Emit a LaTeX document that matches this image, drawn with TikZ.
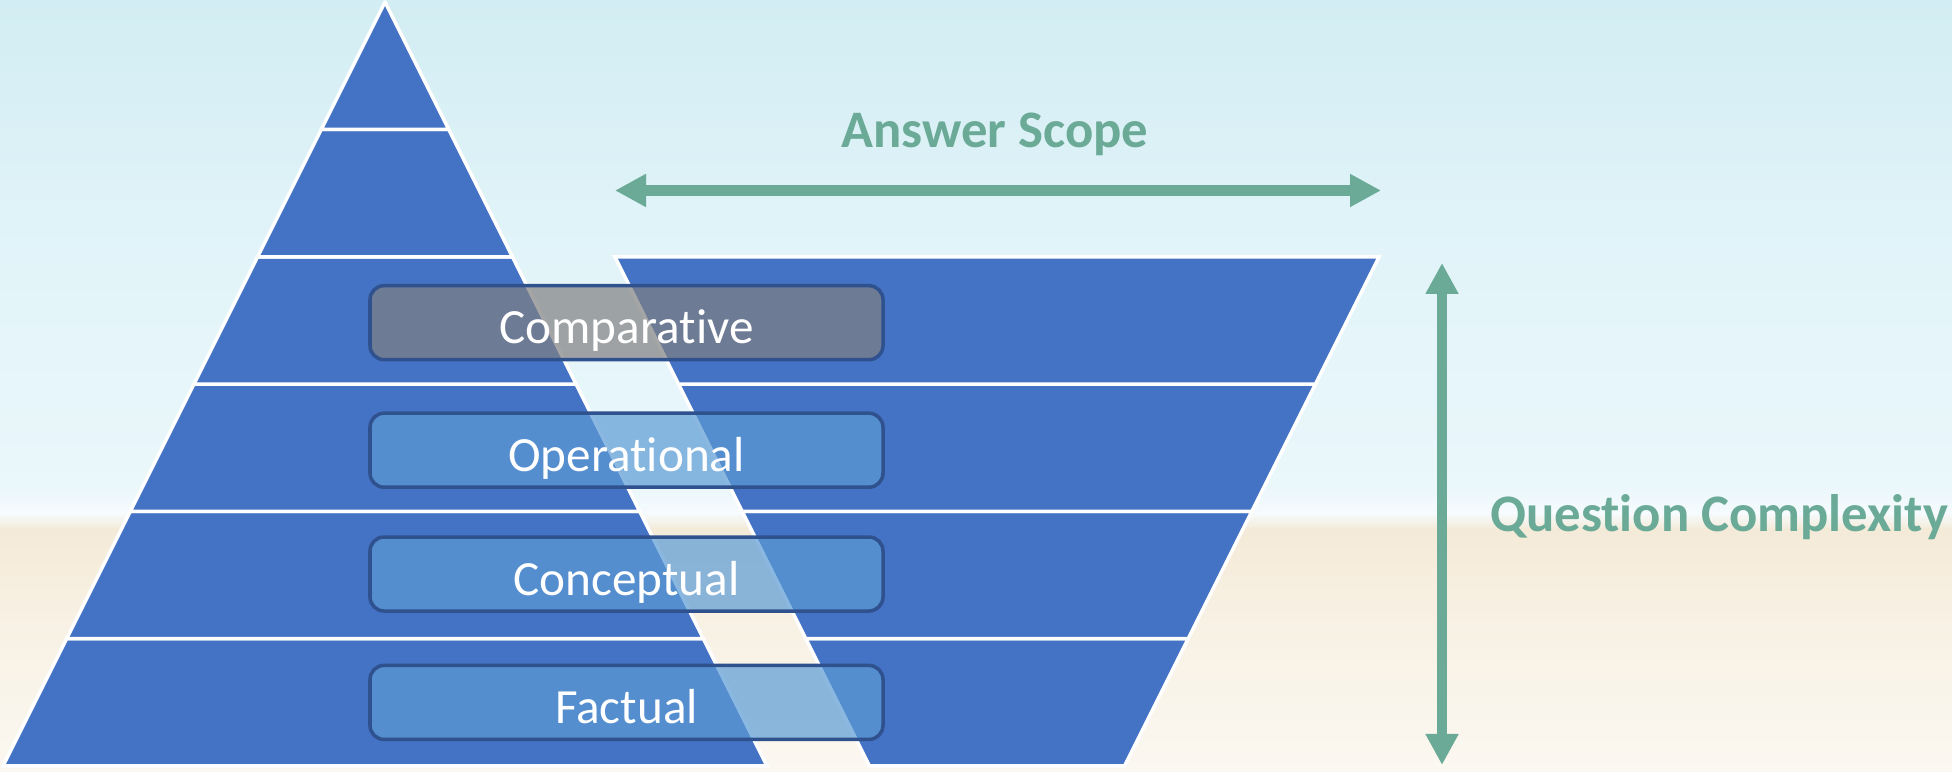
\documentclass[tikz,border=0pt]{standalone}
\usepackage{fontspec}
\setmainfont{Carlito}[Ligatures=NoCommon]
\usepackage{tikz}
\usetikzlibrary{arrows.meta,positioning}

\definecolor{pyrblue}{HTML}{4472C4}
\definecolor{boxblue}{HTML}{5B9BD5}
\definecolor{boxgray}{HTML}{808080}
\definecolor{boxline}{HTML}{2F528F}
\definecolor{scopegreen}{HTML}{6AAA96}
\definecolor{skya}{HTML}{D2EDF3}
\definecolor{skyb}{HTML}{E2F4F9}
\definecolor{skyc}{HTML}{EAF7FB}
\definecolor{foam}{HTML}{F6FBFD}
\definecolor{sanda}{HTML}{F4EAD8}
\definecolor{sandb}{HTML}{F8F1E4}
\definecolor{sandc}{HTML}{FBF8F1}

\tikzset{
    layer/.style={fill=pyrblue, draw=white, line width=1pt},
    level/.style={draw=boxline, line width=1pt, rounded corners=4pt,
        fill=boxblue, fill opacity=0.7, draw opacity=1, text opacity=1,
        text=white, minimum width=5.13cm, minimum height=0.74cm,
        text height=0.5cm, text depth=0.08cm, inner sep=0pt,
        font=\fontsize{14}{16}\selectfont},
    measure/.style={draw=scopegreen, line width=0.107cm,
        {Triangle[length=0.31cm,width=0.31cm]}-{Triangle[length=0.31cm,width=0.31cm]}},
    measurelabel/.style={text=scopegreen, inner sep=0pt,
        font=\fontsize{15}{18}\selectfont\bfseries}
}

\begin{document}
\begin{tikzpicture}
    \useasboundingbox (0,0) rectangle (19.52,7.72);

    % beach background
    \shade[top color=skya, bottom color=skyb] (0,5.2) rectangle (19.52,7.72);
    \shade[top color=skyb, bottom color=skyc] (0,2.85) rectangle (19.52,5.21);
    \shade[top color=skyc, bottom color=foam] (0,2.58) rectangle (19.52,2.86);
    \shade[top color=foam, bottom color=sanda] (0,2.42) rectangle (19.52,2.59);
    \shade[top color=sanda, bottom color=sandb] (0,1.5) rectangle (19.52,2.43);
    \shade[top color=sandb, bottom color=sandc] (0,0) rectangle (19.52,1.51);

    % pyramid
    \foreach \i in {0,...,5} {
        \pgfmathsetmacro\yb{0.06+1.273*\i}
        \pgfmathsetmacro\yt{0.06+1.273*(\i+1)}
        \draw[layer] ({3.85-0.5*(7.70-\yb)},\yb) -- ({3.85+0.5*(7.70-\yb)},\yb)
            -- ({3.85+0.5*(7.70-\yt)},\yt) -- ({3.85-0.5*(7.70-\yt)},\yt) -- cycle;
    }

    % inverted pyramid
    \foreach \i in {0,...,3} {
        \pgfmathsetmacro\yb{0.06+1.273*\i}
        \pgfmathsetmacro\yt{0.06+1.273*(\i+1)}
        \draw[layer] ({9.97-1.275-0.5*(\yb-0.06)},\yb) -- ({9.97+1.275+0.5*(\yb-0.06)},\yb)
            -- ({9.97+1.275+0.5*(\yt-0.06)},\yt) -- ({9.97-1.275-0.5*(\yt-0.06)},\yt) -- cycle;
    }

    % question levels
    \node[level, fill=boxgray] (comp) at (6.265,4.493) {Comparative};
    \node[level, below=0.50cm of comp] (oper) {Operational};
    \node[level, below=0.463cm of oper] (conc) {Conceptual};
    \node[level, below=0.509cm of conc] (fact) {Factual};

    % answer scope
    \coordinate (scopel) at (6.15,5.815);
    \coordinate (scoper) at (13.81,5.815);
    \draw[measure] (scopel) -- (scoper);
    \node[measurelabel, anchor=base] (scopelbl) at (9.95,6.24) {Answer Scope};

    % question complexity
    \coordinate (cplxt) at (14.42,5.09);
    \coordinate (cplxb) at (14.42,0.07);
    \draw[measure] (cplxt) -- (cplxb);
    \node[measurelabel, anchor=base] (cplxlbl) at (17.19,2.40) {Question Complexity};
\end{tikzpicture}
\end{document}
